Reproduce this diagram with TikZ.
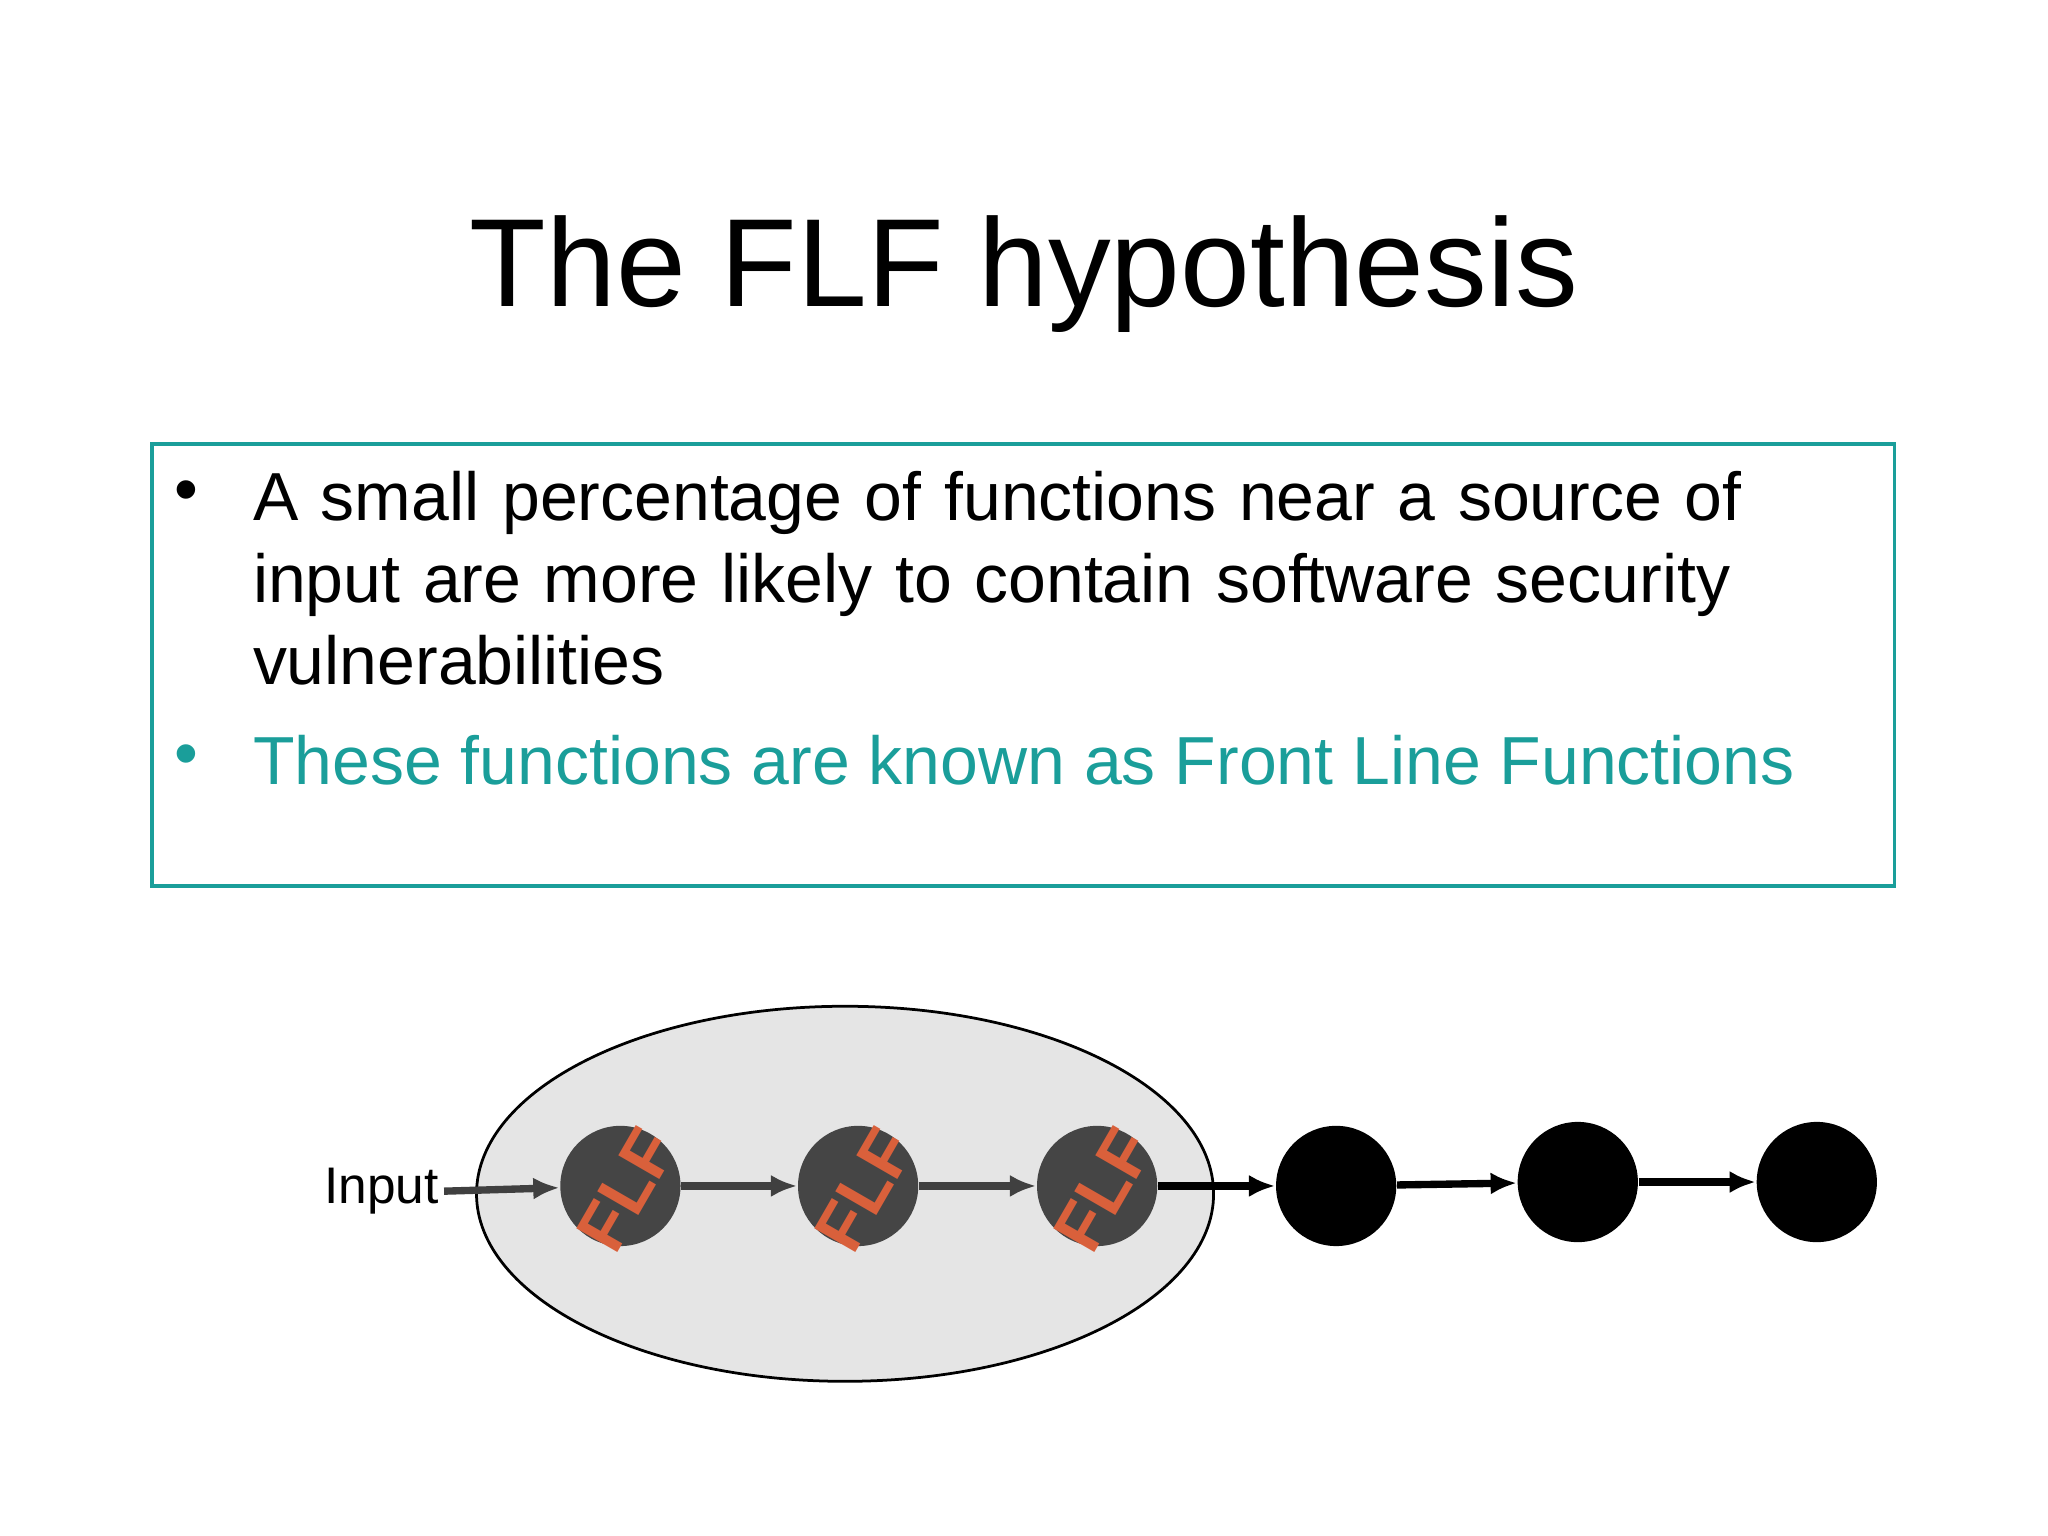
\documentclass[tikz,border=0pt]{standalone}
\usepackage{fontspec}
\setmainfont{Liberation Sans}
\usetikzlibrary{arrows.meta,shapes.geometric}
\definecolor{teal1}{HTML}{1A9E9A}
\definecolor{flfc}{HTML}{D9603B}
\begin{document}
\begin{tikzpicture}[x=0.01cm,y=-0.01cm,
  flf/.style={circle,fill=black!73,minimum size=0.92cm,inner sep=0pt},
  blk/.style={circle,fill=black,minimum size=0.92cm,inner sep=0pt},
  arr/.style={-{Latex[length=0.2cm,width=0.17cm]},line width=1.6pt,black!75},
  lbl/.style={text=flfc,font=\bfseries\fontsize{15pt}{15pt}\selectfont,rotate=60}]
\useasboundingbox (0,0) rectangle (1568,1176);
\node[font=\fontsize{27.3pt}{27.3pt}\selectfont] (title) at (784,210) {The FLF hypothesis};
\node[draw=teal1,line width=0.8pt,minimum width=13.33cm,minimum height=3.38cm,inner sep=0pt] (box) at (783.5,509) {};
\node[anchor=north west,text width=11.7cm,align=left,font=\fontsize{14.8pt}{17.9pt}\selectfont,inner sep=0pt] (b1) at (193,360) {A small percentage of functions near a source of input are more likely to contain software security vulnerabilities};
\node[font=\fontsize{14.8pt}{14.8pt}\selectfont] (d1) at (143,380) {•};
\node[anchor=north west,inner sep=0pt,text=teal1,font=\fontsize{14.8pt}{14.8pt}\selectfont] (b2) at (193,562) {These functions are known as Front Line Functions};
\node[text=teal1,font=\fontsize{14.8pt}{14.8pt}\selectfont] (d2) at (143,582) {•};
\node[draw=black,fill=black!10,ellipse,minimum width=5.64cm,minimum height=2.87cm,inner sep=0pt,line width=0.6pt] (ell) at (647,914) {};
\node[font=\fontsize{11.2pt}{11.2pt}\selectfont,anchor=east,inner sep=1pt] (in) at (340,912) {Input};
\node[flf] (f1) at (475,908) {};
\node[flf] (f2) at (657,908) {};
\node[flf] (f3) at (840,908) {};
\node[blk] (k1) at (1023,908) {};
\node[blk] (k2) at (1208,905) {};
\node[blk] (k3) at (1391,905) {};
\foreach \f in {f1,f2,f3}{\node[lbl] at ([shift={(5,3)}]\f.center) {FLF};}
\draw[arr] (in.east) -- (f1);
\draw[arr] (f1) -- (f2);
\draw[arr] (f2) -- (f3);
\draw[arr,black] (f3) -- (k1);
\draw[arr,black] (k1) -- (k2);
\draw[arr,black] (k2) -- (k3);
\end{tikzpicture}
\end{document}
